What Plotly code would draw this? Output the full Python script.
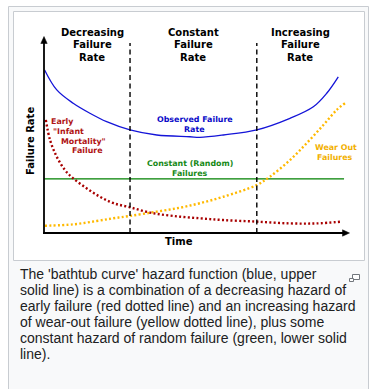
import plotly.graph_objects as go

# ---------------- data (arbitrary units: time 0-10, rate 0-10) ----------------
obs_t = [0.02, 0.42, 0.96, 1.51, 2.06, 2.83, 3.71, 4.80, 5.13, 5.90, 7.00, 8.09, 8.86, 9.30, 9.68]
obs_r = [8.32, 7.30, 6.62, 6.11, 5.68, 5.26, 5.00, 4.91, 4.88, 5.00, 5.26, 5.85, 6.44, 7.13, 7.97]

early_t = [0.06, 0.20, 0.42, 0.69, 0.96, 1.40, 1.84, 2.29, 2.83, 3.49, 4.25, 5.13, 5.90, 7.00, 8.09, 8.97, 9.79]
early_r = [5.77, 4.74, 3.89, 3.21, 2.79, 2.28, 1.85, 1.52, 1.31, 1.04, 0.87, 0.75, 0.66, 0.58, 0.49, 0.49, 0.58]

wear_t = [0.03, 0.96, 1.73, 2.28, 2.83, 3.71, 4.47, 5.13, 5.90, 7.00, 7.43, 8.09, 8.64, 9.19, 9.63, 9.90]
wear_r = [0.37, 0.44, 0.61, 0.75, 0.87, 1.09, 1.29, 1.52, 1.85, 2.45, 2.87, 3.72, 4.58, 5.51, 6.28, 6.62]

const_t = [0.0, 9.87]
const_r = [2.76, 2.76]

phase_bounds = [2.83, 7.0]
phase_top = 9.69

phase_labels = ["Decreasing<br>Failure<br>Rate", "Constant<br>Failure<br>Rate", "Increasing<br>Failure<br>Rate"]

caption_lines = [
    "The 'bathtub curve' hazard function (blue, upper",
    "solid line) is a combination of a decreasing hazard of",
    "early failure (red dotted line) and an increasing hazard",
    "of wear-out failure (yellow dotted line), plus some",
    "constant hazard of random failure (green, lower solid",
    "line).",
]

# ---------------- layout helpers ----------------
W, H = 371, 389
def px(x):
    return x / W
def py(y):
    return 1 - y / H

BLUE = "#1414d8"
BLUE_T = "#0a0ac8"
RED = "#a80000"
RED_T = "#b01414"
YEL = "#ffb900"
YEL_T = "#f2b000"
GREEN = "#008000"
GREEN_T = "#188a18"
FONT = "DejaVu Sans"

fig = go.Figure()

fig.add_trace(go.Scatter(x=const_t, y=const_r, mode="lines",
                         line=dict(color=GREEN, width=1.3), hoverinfo="skip"))
fig.add_trace(go.Scatter(x=obs_t, y=obs_r, mode="lines",
                         line=dict(color=BLUE, width=1.3, shape="spline"), hoverinfo="skip"))
fig.add_trace(go.Scatter(x=wear_t, y=wear_r, mode="lines",
                         line=dict(color=YEL, width=2.4, shape="spline", dash="2px,2.3px"), hoverinfo="skip"))
fig.add_trace(go.Scatter(x=early_t, y=early_r, mode="lines",
                         line=dict(color=RED, width=2.4, shape="spline", dash="2px,2.3px"), hoverinfo="skip"))

shapes = []
# outer thumbnail container
shapes.append(dict(type="rect", xref="paper", yref="paper", layer="below",
                   x0=px(8.5), x1=px(368.5), y0=py(6.5), y1=py(420),
                   fillcolor="#f8f9fa", line=dict(color="#c8ccd1", width=1)))
# inner image frame
shapes.append(dict(type="rect", xref="paper", yref="paper", layer="below",
                   x0=px(13.5), x1=px(364.5), y0=py(11.5), y1=py(260.5),
                   fillcolor="#ffffff", line=dict(color="#c8ccd1", width=1)))
# axes
shapes.append(dict(type="line", xref="paper", yref="paper",
                   x0=px(44), x1=px(44), y0=py(234), y1=py(41),
                   line=dict(color="black", width=1.8)))
shapes.append(dict(type="line", xref="paper", yref="paper",
                   x0=px(43.1), x1=px(344), y0=py(233), y1=py(233),
                   line=dict(color="black", width=1.8)))
def tri(pts):
    s = "M " + " L ".join(f"{px(a):.5f},{py(b):.5f}" for a, b in pts) + " Z"
    return s
shapes.append(dict(type="path", xref="paper", yref="paper",
                   path=tri([(44, 36.5), (40.8, 43.5), (47.2, 43.5)]),
                   fillcolor="black", line=dict(color="black", width=0.5)))
shapes.append(dict(type="path", xref="paper", yref="paper",
                   path=tri([(349.5, 233), (342.5, 229.8), (342.5, 236.2)]),
                   fillcolor="black", line=dict(color="black", width=0.5)))
# phase boundaries
for b in phase_bounds:
    shapes.append(dict(type="line", xref="x", yref="y", x0=b, x1=b, y0=0, y1=phase_top,
                       line=dict(color="black", width=1.4, dash="5px,3.5px")))
# enlarge icon
shapes.append(dict(type="rect", xref="paper", yref="paper",
                   x0=px(352.5), x1=px(359.5), y0=py(274.5), y1=py(279.5),
                   fillcolor="#ffffff", line=dict(color="#72777d", width=1)))
shapes.append(dict(type="rect", xref="paper", yref="paper",
                   x0=px(349.5), x1=px(353.5), y0=py(278.5), y1=py(281.5),
                   fillcolor="#ffffff", line=dict(color="#72777d", width=1)))

ann = []
def label(text, x, y, size, color, angle=0, xanchor="center", family=FONT, weight="bold"):
    ann.append(dict(text=text, x=px(x), y=py(y), xref="paper", yref="paper",
                    xanchor=xanchor, yanchor="middle", showarrow=False, textangle=angle,
                    font=dict(family=family, size=size, color=color, weight=weight)))

for txt, cx in zip(phase_labels, [92, 193, 300]):
    for i, line in enumerate(txt.split("<br>")):
        label(line, cx, 32 + 12.5 * i, 10, "black")

label("Observed Failure", 194.5, 119.5, 7.9, BLUE_T)
label("Rate", 194.5, 129.5, 7.9, BLUE_T)

for line, cx, cy in zip(["Early", "\"Infant", "Mortality\"", "Failure"],
                        [62, 68.7, 83.8, 87.7], [121.5, 131.3, 141.1, 150.9]):
    label(line, cx, cy, 7.9, RED_T)

label("Constant (Random)", 189.7, 163.3, 7.9, GREEN_T)
label("Failures", 190, 173.3, 7.9, GREEN_T)

label("Wear Out", 335.5, 147.3, 7.9, YEL_T)
label("Failures", 335, 157.3, 7.9, YEL_T)

label("Time", 179, 241.5, 10, "black")
label("Failure Rate", 31, 141, 10, "black", angle=-90)

for i, line in enumerate(caption_lines):
    label(line, 18, 273.5 + 16 * i, 14, "#202122", xanchor="left",
          family="Liberation Sans, Arial", weight="normal")

fig.update_layout(
    width=W, height=H,
    margin=dict(l=0, r=0, t=0, b=0),
    paper_bgcolor="white",
    plot_bgcolor="rgba(0,0,0,0)",
    showlegend=False,
    xaxis=dict(domain=[px(44), px(348)], range=[0, 10], visible=False, fixedrange=True),
    yaxis=dict(domain=[py(233), py(37)], range=[0, 10], visible=False, fixedrange=True),
    shapes=shapes,
    annotations=ann,
)

fig.write_html("out.html", config={"displayModeBar": False},
               post_script="document.body.style.margin='0';document.body.style.overflow='hidden';")
